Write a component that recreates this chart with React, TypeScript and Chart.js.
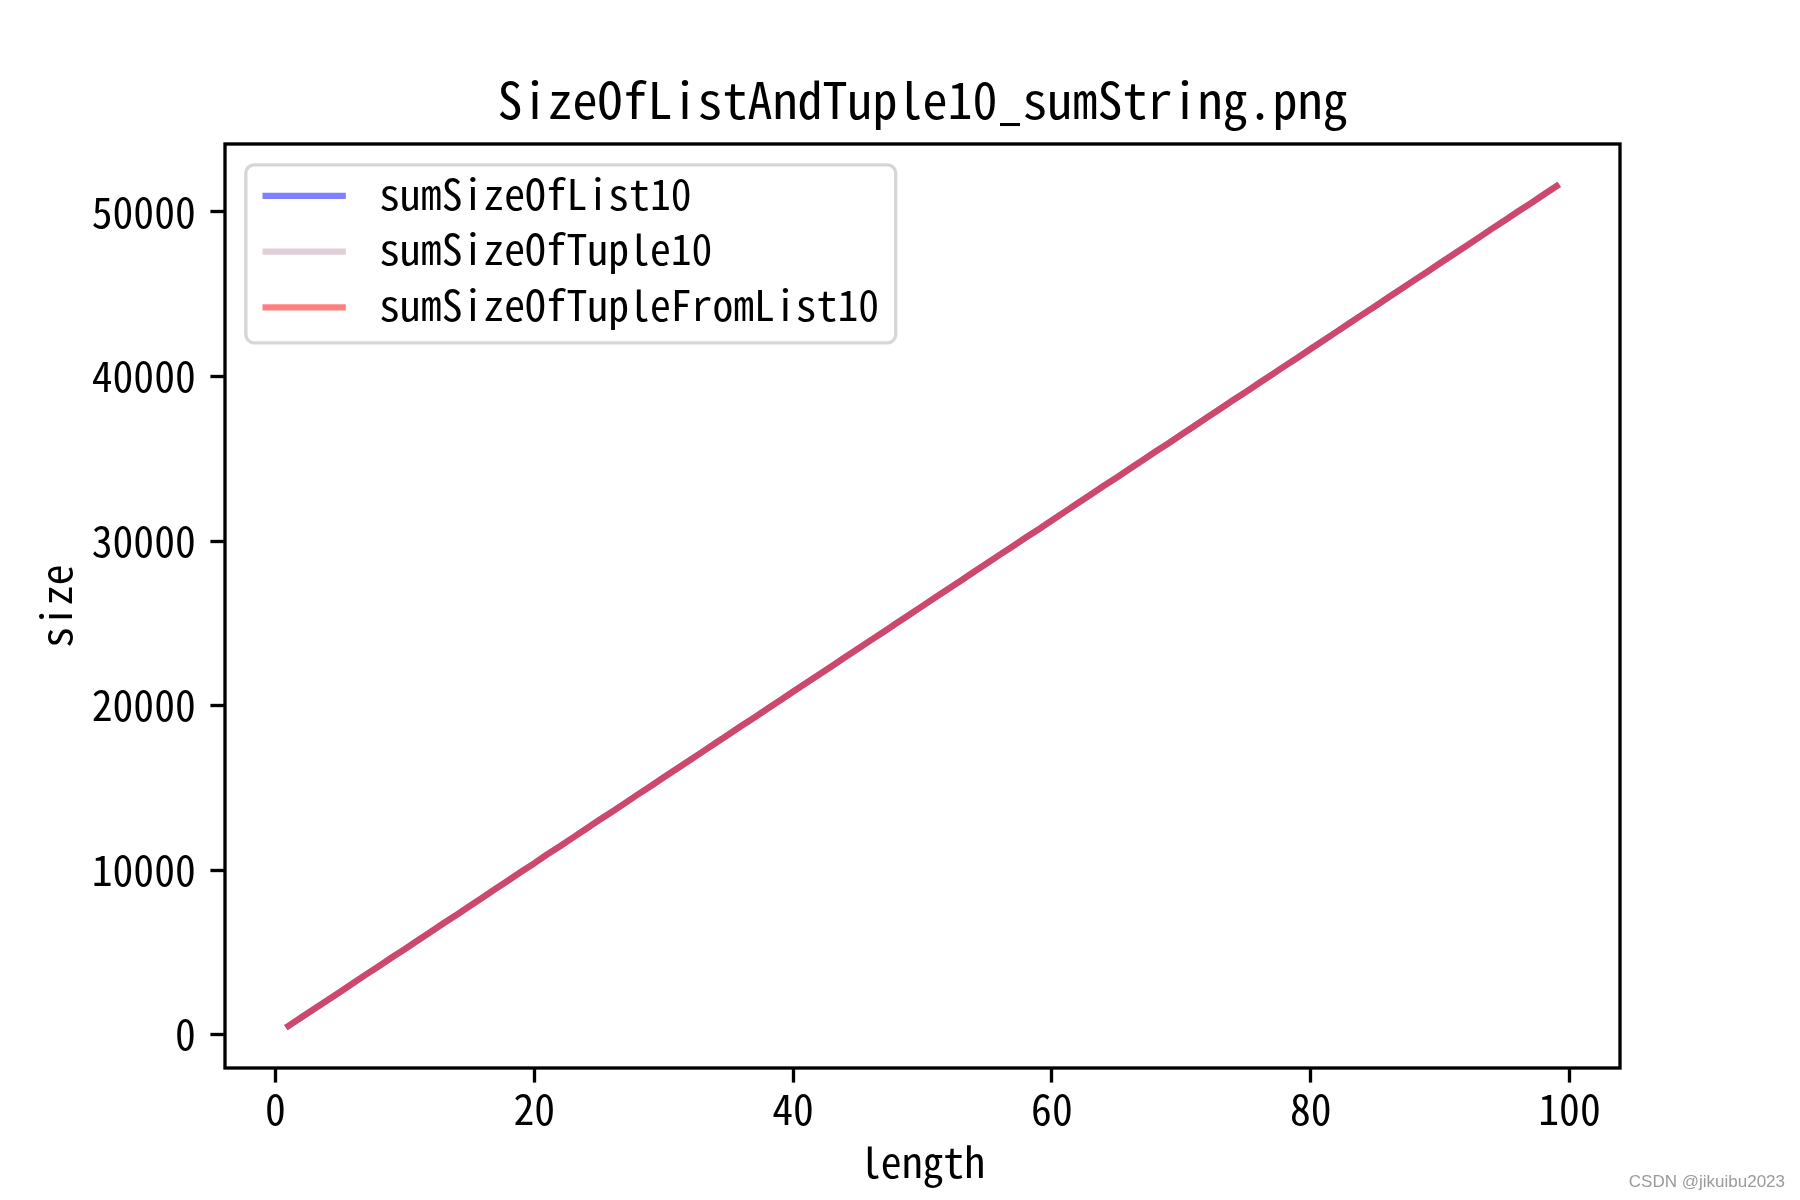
import React, { useEffect, useRef } from "react";
import { Chart, registerables } from "chart.js";

Chart.register(...registerables);

const lengths = [
  1, 2, 3, 4, 5, 6, 7, 8, 9, 10, 11, 12, 13, 14, 15, 16, 17, 18, 19, 20,
  21, 22, 23, 24, 25, 26, 27, 28, 29, 30, 31, 32, 33, 34, 35, 36, 37, 38, 39, 40,
  41, 42, 43, 44, 45, 46, 47, 48, 49, 50, 51, 52, 53, 54, 55, 56, 57, 58, 59, 60,
  61, 62, 63, 64, 65, 66, 67, 68, 69, 70, 71, 72, 73, 74, 75, 76, 77, 78, 79, 80,
  81, 82, 83, 84, 85, 86, 87, 88, 89, 90, 91, 92, 93, 94, 95, 96, 97, 98, 99,
];

const sumSizeOfList10 = [
  520, 1040, 1565, 2080, 2600, 3125, 3650, 4160, 4690, 5200,
  5730, 6240, 6770, 7280, 7810, 8320, 8850, 9370, 9900, 10410,
  10950, 11450, 11980, 12500, 13030, 13540, 14060, 14590, 15100, 15630,
  16150, 16670, 17190, 17720, 18230, 18760, 19270, 19800, 20310, 20840,
  21360, 21880, 22400, 22930, 23440, 23970, 24480, 25010, 25520, 26050,
  26570, 27090, 27610, 28140, 28650, 29180, 29690, 30220, 30730, 31260,
  31780, 32300, 32820, 33350, 33860, 34390, 34900, 35430, 35940, 36470,
  36990, 37510, 38030, 38560, 39070, 39600, 40110, 40640, 41150, 41680,
  42200, 42720, 43240, 43770, 44280, 44810, 45320, 45850, 46360, 46890,
  47410, 47930, 48450, 48980, 49490, 50020, 50530, 51060, 51580,
];
const sumSizeOfTuple10 = sumSizeOfList10;
const sumSizeOfTupleFromList10 = sumSizeOfList10;

const seriesLabels = ["sumSizeOfList10", "sumSizeOfTuple10", "sumSizeOfTupleFromList10"];
const seriesColors = ["rgba(0,0,255,0.5)", "rgba(194,160,177,0.5)", "rgba(255,0,0,0.5)"];

const xTicks = [0, 20, 40, 60, 80, 100];
const yTicks = [0, 10000, 20000, 30000, 40000, 50000];

const titleText = "SizeOfListAndTuple10_sumString.png";
const xLabel = "length";
const yLabel = "size";
const watermark = "CSDN @jikuibu2023";

const FONT = '"Noto Sans Mono CJK SC", "Noto Sans CJK SC", "DejaVu Sans Mono", monospace';
const PX = 300 / 72; // points to pixels at 300 dpi

export default function App() {
  const ref = useRef<HTMLCanvasElement | null>(null);

  useEffect(() => {
    document.body.style.margin = "0";
    const canvas = ref.current;
    if (!canvas) return;

    const allY = [...sumSizeOfList10, ...sumSizeOfTuple10, ...sumSizeOfTupleFromList10];
    const yMinD = Math.min(...allY);
    const yMaxD = Math.max(...allY);
    const yPad = (yMaxD - yMinD) * 0.05;
    const xMinD = Math.min(...lengths);
    const xMaxD = Math.max(...lengths);
    const xPad = (xMaxD - xMinD) * 0.05;

    const series = [sumSizeOfList10, sumSizeOfTuple10, sumSizeOfTupleFromList10];

    const decor = {
      id: "decor",
      afterDatasetsDraw(chart: any) {
        const ctx = chart.ctx;
        const a = chart.chartArea;
        ctx.save();
        // frame
        ctx.strokeStyle = "#000";
        ctx.lineWidth = 0.8 * PX;
        ctx.lineJoin = "miter";
        ctx.strokeRect(a.left, a.top, a.right - a.left, a.bottom - a.top);

        // title
        ctx.fillStyle = "#000";
        ctx.font = `${12 * PX}px ${FONT}`;
        ctx.textAlign = "center";
        ctx.textBaseline = "alphabetic";
        ctx.fillText(titleText, (a.left + a.right) / 2, a.top - 6 * PX);

        // x label
        ctx.font = `${10 * PX}px ${FONT}`;
        ctx.fillText(xLabel, (a.left + a.right) / 2, 1178);

        // y label
        ctx.save();
        ctx.translate(72, (a.top + a.bottom) / 2);
        ctx.rotate(-Math.PI / 2);
        ctx.textAlign = "center";
        ctx.textBaseline = "alphabetic";
        ctx.fillText(yLabel, 0, 0);
        ctx.restore();

        // legend
        const fs = 10 * PX;
        ctx.font = `${fs}px ${FONT}`;
        const ds = chart.data.datasets;
        let maxW = 0;
        ds.forEach((d: any) => {
          maxW = Math.max(maxW, ctx.measureText(d.label).width);
        });
        const bx = a.left + 0.5 * fs;
        const by = a.top + 0.5 * fs;
        const borderPad = 0.4 * fs;
        const handleLen = 2 * fs;
        const handlePad = 0.8 * fs;
        const bw = borderPad * 2 + handleLen + handlePad + maxW;
        const rowH = 55.8;
        const bh = 178;
        const r = 0.2 * fs;
        ctx.beginPath();
        ctx.moveTo(bx + r, by);
        ctx.lineTo(bx + bw - r, by);
        ctx.arcTo(bx + bw, by, bx + bw, by + r, r);
        ctx.lineTo(bx + bw, by + bh - r);
        ctx.arcTo(bx + bw, by + bh, bx + bw - r, by + bh, r);
        ctx.lineTo(bx + r, by + bh);
        ctx.arcTo(bx, by + bh, bx, by + bh - r, r);
        ctx.lineTo(bx, by + r);
        ctx.arcTo(bx, by, bx + r, by, r);
        ctx.closePath();
        ctx.fillStyle = "rgba(255,255,255,0.8)";
        ctx.fill();
        ctx.strokeStyle = "rgba(204,204,204,0.8)";
        ctx.lineWidth = 0.8 * PX;
        ctx.stroke();

        ds.forEach((d: any, i: number) => {
          const cy = by + 31 + i * rowH;
          ctx.beginPath();
          ctx.strokeStyle = d.borderColor;
          ctx.lineWidth = 1.5 * PX;
          ctx.lineCap = "butt";
          ctx.moveTo(bx + borderPad, cy);
          ctx.lineTo(bx + borderPad + handleLen, cy);
          ctx.stroke();
          ctx.fillStyle = "#000";
          ctx.textAlign = "left";
          ctx.textBaseline = "middle";
          ctx.fillText(d.label, bx + borderPad + handleLen + handlePad, cy - 2);
        });

        // watermark
        ctx.font = `17px "Liberation Sans", Arial, sans-serif`;
        ctx.fillStyle = "#9a9a9a";
        ctx.textAlign = "right";
        ctx.textBaseline = "alphabetic";
        ctx.fillText(watermark, 1785, 1187);
        ctx.restore();
      },
    };

    const chart = new Chart(canvas, {
      type: "line",
      data: {
        datasets: series.map((s, i) => ({
          label: seriesLabels[i],
          data: s.map((v, j) => ({ x: lengths[j], y: v })),
          borderColor: seriesColors[i],
          backgroundColor: seriesColors[i],
          borderWidth: 1.5 * PX,
          pointRadius: 0,
          pointHoverRadius: 0,
          tension: 0,
          fill: false,
          borderCapStyle: "square",
          borderJoinStyle: "round",
          order: 3 - i,
        })),
      },
      options: {
        responsive: false,
        animation: false,
        devicePixelRatio: 1,
        events: [],
        layout: { padding: { left: 0, right: 180, top: 144, bottom: 0 } },
        scales: {
          x: {
            type: "linear",
            min: xMinD - xPad,
            max: xMaxD + xPad,
            afterFit: (s: any) => {
              s.height = 132;
            },
            afterBuildTicks: (s: any) => {
              s.ticks = xTicks.map((v) => ({ value: v }));
            },
            grid: {
              drawOnChartArea: false,
              tickLength: 3.5 * PX,
              tickWidth: 0.8 * PX,
              tickColor: "#000",
            },
            border: { display: false },
            ticks: {
              padding: 3.5 * PX - 13,
              color: "#000",
              font: { family: FONT, size: 10 * PX },
              maxRotation: 0,
              autoSkip: false,
              callback: (v: any) => String(v),
            },
          },
          y: {
            type: "linear",
            min: yMinD - yPad,
            max: yMaxD + yPad,
            afterFit: (s: any) => {
              s.width = 225;
            },
            afterBuildTicks: (s: any) => {
              s.ticks = yTicks.map((v) => ({ value: v }));
            },
            grid: {
              drawOnChartArea: false,
              tickLength: 3.5 * PX,
              tickWidth: 0.8 * PX,
              tickColor: "#000",
            },
            border: { display: false },
            ticks: {
              padding: 3.5 * PX,
              color: "#000",
              font: { family: FONT, size: 10 * PX },
              autoSkip: false,
              callback: (v: any) => String(v),
            },
          },
        },
        plugins: {
          legend: { display: false },
          tooltip: { enabled: false },
          title: { display: false },
        },
      },
      plugins: [decor],
    } as any);

    return () => {
      chart.destroy();
    };
  }, []);

  return (
    <div style={{ width: 1800, height: 1200, background: "#fff" }}>
      <canvas ref={ref} width={1800} height={1200} style={{ display: "block", width: 1800, height: 1200 }} />
    </div>
  );
}
